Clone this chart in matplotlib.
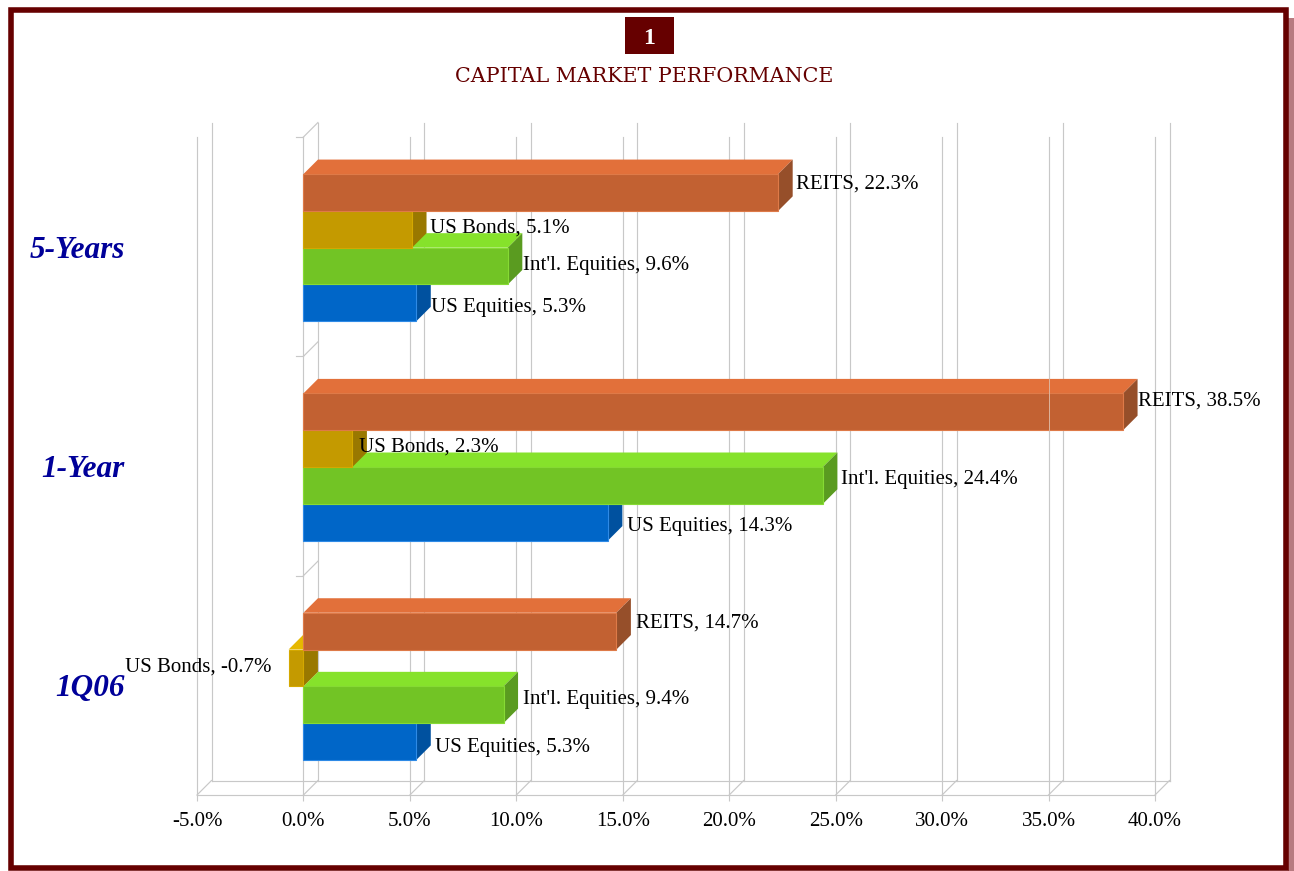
import numpy as np
import matplotlib
matplotlib.use('Agg')
import matplotlib.pyplot as plt
from matplotlib.patches import Polygon, Rectangle

periods = ['1Q06', '1-Year', '5-Years']
series = ['US Equities', "Int'l. Equities", 'US Bonds', 'REITS']
us_equities = [5.3, 14.3, 5.3]
intl_equities = [9.4, 24.4, 9.6]
us_bonds = [-0.7, 2.3, 5.1]
reits = [14.7, 38.5, 22.3]
xticks = [-5, 0, 5, 10, 15, 20, 25, 30, 35, 40]
xticklabels = ['-5.0%', '0.0%', '5.0%', '10.0%', '15.0%', '20.0%', '25.0%', '30.0%', '35.0%', '40.0%']

values = [us_equities, intl_equities, us_bonds, reits]
front = ['#0066C8', '#72C425', '#C49A00', '#C26132']
top = ['#1E7BE0', '#86E22B', '#E6B800', '#E2703A']
side = ['#00519F', '#5A9B20', '#997800', '#964F2A']
edge = ['#2E8AE6', '#86DA34', '#D4A800', '#DE7A48']

# label nudges in pixels from the end of the bar, one row per period
nudge = [[(4, -6), (5, 5), (-17, 1), (5, 8)],
         [(5, -4), (4, 6), (-8, 2), (0, 11)],
         [(0, -5), (1, 1), (3, 1), (3, 8)]]

W, H = 1294, 871
GRID = '#C8C8C8'
plt.rcParams['font.family'] = ['Liberation Serif', 'DejaVu Serif']

fig = plt.figure(figsize=(W / 100, H / 100), dpi=100, facecolor='white')


def fx(x):
    return x / W


def fy(y):
    return 1 - y / H


# frame + shadow
fig.patches.append(Rectangle((fx(1288), 0), 6 / W, fy(18), transform=fig.transFigure,
                             fc='#B87A80', ec='none', zorder=-3))
fig.patches.append(Rectangle((fx(10.5), fy(868)), 1275 / W, 858 / H, transform=fig.transFigure,
                             fc='white', ec='#660000', lw=4, zorder=-2))
fig.patches.append(Rectangle((fx(625), fy(54)), 49 / W, 37 / H, transform=fig.transFigure,
                             fc='#660000', ec='none', zorder=-1))
fig.text(fx(649), fy(38), '1', color='white', fontsize=17, fontweight='bold', ha='center', va='center')
fig.text(fx(644), fy(76), 'CAPITAL MARKET PERFORMANCE', color='#660000', fontsize=14.85,
         family='DejaVu Serif', ha='center', va='center')

ax = fig.add_axes([fx(197), fy(795), 958 / W, 658 / H])
ax.set_xlim(-5, 40)
ax.set_ylim(0, 3)
ax.patch.set_alpha(0)
for s in ax.spines.values():
    s.set_visible(False)

px_x = 958 / 45
px_y = 658 / 3
dx = 14.5 / px_x
dy = 14.5 / px_y

# walls and floor
for t in xticks:
    ax.plot([t + dx, t + dx], [dy, 3 + dy], color=GRID, lw=0.85, clip_on=False, zorder=1)
    ax.plot([t, t], [0, 3], color=GRID, lw=0.85, clip_on=False, zorder=1)
    ax.plot([t, t + dx], [0, dy], color=GRID, lw=0.85, clip_on=False, zorder=1)
ax.plot([-5, 40], [0, 0], color=GRID, lw=0.85, clip_on=False, zorder=1)
ax.plot([-5 + dx, 40 + dx], [dy, dy], color=GRID, lw=0.85, clip_on=False, zorder=1)
for c in [1, 2, 3]:
    ax.plot([0, dx], [c, c + dy], color=GRID, lw=0.85, clip_on=False, zorder=1)
    ax.plot([-7 / px_x, 0], [c, c], color=GRID, lw=0.85, clip_on=False, zorder=1)

ax.set_xticks(xticks)
ax.set_xticklabels(xticklabels, fontsize=15, color='black')
ax.tick_params(axis='x', length=4, width=0.8, color=GRID, pad=8.5)
ax.set_yticks([0.5, 1.5, 2.5])
ax.set_yticklabels(periods, fontsize=22.5, fontweight='bold', style='italic', color='#000099')
ax.tick_params(axis='y', length=0, pad=52)

bar_h = 36.8 / px_y
shift = -1 / px_y
z = 3
for k in range(4):
    for c in range(3):
        v = values[k][c]
        y0 = c + 0.5 + shift + (k - 2) * bar_h
        y1 = y0 + bar_h
        ax.add_patch(Polygon([(min(v, 0), y1), (max(v, 0), y1), (max(v, 0) + dx, y1 + dy), (min(v, 0) + dx, y1 + dy)],
                             fc=top[k], ec='none', zorder=z + c * 10, clip_on=False))
        ax.add_patch(Polygon([(max(v, 0), y0), (max(v, 0) + dx, y0 + dy), (max(v, 0) + dx, y1 + dy), (max(v, 0), y1)],
                             fc=side[k], ec='none', zorder=z + c * 10, clip_on=False))
        ax.barh(y0 + bar_h / 2, v, height=bar_h, color=front[k], edgecolor=edge[k], linewidth=0.8,
                zorder=z + c * 10 + 0.5)
        end = max(v, 0) + dx
        anchor = end if v >= 0 else v
        ax.annotate(f'{series[k]}, {v}%', (anchor, y0 + bar_h / 2), xytext=nudge[c][k],
                    textcoords='offset pixels', fontsize=15, color='black',
                    ha='left' if v >= 0 else 'right', va='center', zorder=50)
    z += 1

# the 35% line shows faintly through the long REITS bar
y_r = 1.5 + shift + bar_h
ax.plot([35, 35], [y_r, y_r + bar_h + dy], color='#DDB49C', lw=0.7, zorder=60)

fig.savefig('out.png', dpi=100)
